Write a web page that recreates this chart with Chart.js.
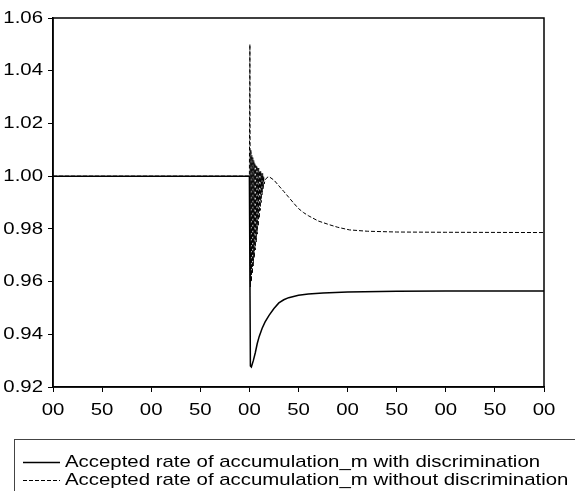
<!DOCTYPE html>
<html>
<head>
<meta charset="utf-8">
<script src="https://cdn.jsdelivr.net/npm/chart.js@4"></script>
<style>
  body { margin: 0; background: #fff; }
  #wrap { width: 575px; height: 491px; }
</style>
</head>
<body>
<div id="wrap"><canvas id="myChart" width="575" height="491"></canvas></div>
<script>
// periods and values
const withDiscT = [0, 200, 201, 202, 204, 206, 208, 210, 213, 216, 220, 225, 230, 235, 240, 250, 260, 275, 300, 350, 400, 500];
const withDiscV = [1.0, 1.0, 0.9280, 0.9276, 0.9300, 0.9330, 0.9365, 0.9392, 0.9423, 0.9447, 0.9472, 0.9498, 0.9519, 0.9531, 0.9539, 0.9548, 0.9553, 0.9557, 0.9560, 0.9563, 0.9564, 0.9564];

const withoutDiscT = [0, 200, 200.5, 201, 201.5, 202, 202.5, 203, 203.5, 204, 204.5, 205, 205.5, 206, 206.5, 207, 207.5, 208, 208.5, 209, 209.5, 210, 210.5, 211, 211.5, 212, 212.5, 213, 213.5, 214, 214.5, 215, 216, 218, 220, 225, 231, 235, 240, 245, 250, 255, 260, 270, 282, 290, 302, 320, 350, 400, 500];
const withoutDiscV = [1.0, 1.0, 1.050, 0.958, 1.010, 0.960, 1.008, 0.963, 1.007, 0.966, 1.006, 0.969, 1.005, 0.972, 1.004, 0.975, 1.004, 0.978, 1.003, 0.981, 1.003, 0.984, 1.002, 0.987, 1.002, 0.990, 1.001, 0.993, 1.001, 0.995, 1.000, 0.997, 0.9985, 0.9995, 0.9998, 0.9985, 0.9959, 0.9942, 0.9920, 0.9898, 0.9877, 0.9862, 0.9850, 0.9830, 0.9815, 0.9806, 0.9796, 0.9791, 0.9788, 0.9787, 0.9786];

const seriesLabels = [
  'Accepted rate of accumulation_m with discrimination',
  'Accepted rate of accumulation_m without discrimination'
];

const FONT = 'Liberation Sans, Arial, sans-serif';
const TEXT_STRETCH = 1.2;   // the original lettering is drawn wide

function toPoints(t, v) {
  return t.map((x, i) => ({ x: x, y: v[i] }));
}

function wideText(c, str, x, y, align) {
  const w = c.measureText(str).width * TEXT_STRETCH;
  let left = x;
  if (align === 'center') left = x - w / 2;
  if (align === 'right') left = x - w;
  c.save();
  c.translate(left, y);
  c.scale(TEXT_STRETCH, 1);
  c.textAlign = 'left';
  c.fillText(str, 0, 0);
  c.restore();
}

// frame round the plot area + tick labels
const framePlugin = {
  id: 'frame',
  afterDraw(chart) {
    const c = chart.ctx, a = chart.chartArea;
    c.save();
    c.strokeStyle = '#000';
    c.lineWidth = 1.5;
    c.strokeRect(a.left, a.top, a.right - a.left, a.bottom - a.top);

    c.font = '17px ' + FONT;
    c.fillStyle = '#000';
    c.textBaseline = 'middle';
    const xs = chart.scales.x, ys = chart.scales.y;
    xs.ticks.forEach(t => {
      const label = String(t.value % 100).padStart(2, '0');
      wideText(c, label, xs.getPixelForValue(t.value), 410, 'center');
    });
    ys.ticks.forEach(t => {
      wideText(c, t.value.toFixed(2), 43, ys.getPixelForValue(t.value), 'right');
    });
    c.restore();
  }
};

// boxed legend under the chart
const legendPlugin = {
  id: 'boxLegend',
  afterDraw(chart) {
    const c = chart.ctx;
    c.save();
    c.strokeStyle = '#444';
    c.lineWidth = 1;
    c.strokeRect(14.5, 439.5, 600, 80);
    c.font = '17px ' + FONT;
    c.fillStyle = '#000';
    c.textBaseline = 'middle';
    chart.data.datasets.forEach((ds, i) => {
      const y = 462 + i * 18;
      c.beginPath();
      c.setLineDash(ds.borderDash || []);
      c.lineWidth = ds.borderWidth;
      c.strokeStyle = ds.borderColor;
      c.moveTo(23, y + 0.5);
      c.lineTo(60, y + 0.5);
      c.stroke();
      c.setLineDash([]);
      wideText(c, ds.label, 65, y, 'left');
    });
    c.restore();
  }
};

new Chart(document.getElementById('myChart'), {
  type: 'line',
  data: {
    datasets: [{
      label: seriesLabels[0],
      data: toPoints(withDiscT, withDiscV),
      borderColor: '#000',
      borderWidth: 1.5,
      pointRadius: 0,
      tension: 0
    }, {
      label: seriesLabels[1],
      data: toPoints(withoutDiscT, withoutDiscV),
      borderColor: '#000',
      borderWidth: 1,
      borderDash: [4, 2],
      pointRadius: 0,
      tension: 0
    }]
  },
  options: {
    responsive: false,
    animation: false,
    layout: { padding: { top: 18, right: 31, bottom: 64, left: 0 } },
    plugins: { legend: { display: false }, tooltip: { enabled: false } },
    scales: {
      x: {
        type: 'linear',
        min: 0,
        max: 500,
        afterFit(scale) { scale.height = 40; },
        border: { display: true, color: '#000', width: 1.5 },
        grid: { drawOnChartArea: false, drawTicks: true, tickLength: 5, color: '#000' },
        ticks: { stepSize: 50, display: false }
      },
      y: {
        min: 0.92,
        max: 1.06,
        afterFit(scale) { scale.width = 53; },
        border: { display: true, color: '#000', width: 1.5 },
        grid: { drawOnChartArea: false, drawTicks: true, tickLength: 5, color: '#000' },
        ticks: { stepSize: 0.02, display: false }
      }
    }
  },
  plugins: [framePlugin, legendPlugin]
});
</script>
</body>
</html>
